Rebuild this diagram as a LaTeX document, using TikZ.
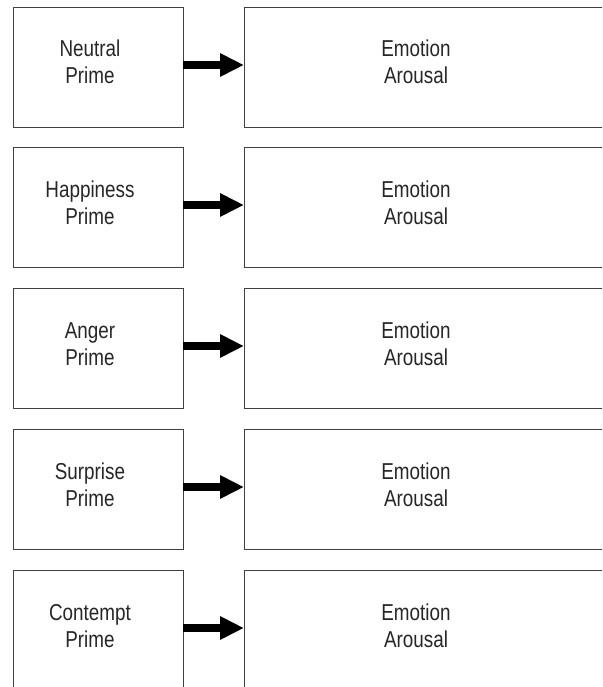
\documentclass[tikz,border=0pt]{standalone}
\usepackage{fontspec}
\usepackage{graphicx}
\setmainfont{Liberation Sans}
\usetikzlibrary{arrows.meta}
\newcommand\cond[1]{\scalebox{0.82}[1]{#1}}
\tikzset{
  box/.style={draw=black!75, line width=1.3pt, rectangle, inner sep=0pt, anchor=north west},
  lbl/.style={anchor=base, inner sep=0pt, font=\fontsize{23}{27}\selectfont, text=black!85},
  bigarrow/.style={line width=8pt, -{Triangle[length=24pt,width=22pt]}, black},
}
\begin{document}
\begin{tikzpicture}[x=1pt,y=-1pt]
\clip (0,0) rectangle (602,687);
\foreach \i/\top/\wa/\wb in {1/7/Neutral/Prime, 2/147/Happiness/Prime, 3/288/Anger/Prime, 4/429/Surprise/Prime, 5/570/Contempt/Prime}{
  \node[box, minimum width=170pt, minimum height=120pt] (L\i) at (13,\top) {};
  \node[box, minimum width=400pt, minimum height=120pt] (R\i) at (244,\top) {};
  \node[lbl] (La\i) at (90,\top+50) {\cond{\wa}};
  \node[lbl] (Lb\i) at (90,\top+77) {\cond{\wb}};
  \node[lbl] (Ra\i) at (416,\top+50) {\cond{Emotion}};
  \node[lbl] (Rb\i) at (416,\top+77) {\cond{Arousal}};
  \coordinate (A\i) at (183,\top+58);
  \coordinate (B\i) at (244,\top+58);
  \draw[bigarrow] (A\i) -- (B\i);
}
\end{tikzpicture}
\end{document}
